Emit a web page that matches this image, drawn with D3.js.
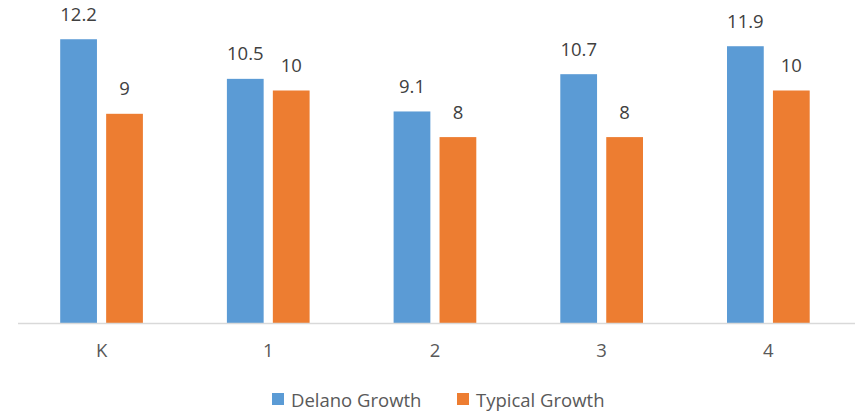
<!DOCTYPE html>
<html>
<head>
<meta charset="utf-8">
<script src="https://cdn.jsdelivr.net/npm/d3@7"></script>
<style>
  html, body { margin: 0; padding: 0; background: #fff; }
  svg { display: block; font-family: "Open Sans", "Noto Sans", sans-serif; }
</style>
</head>
<body>
<svg id="chart" width="867" height="414"></svg>
<script>
// Grade-level growth comparison
const grades = ["K", "1", "2", "3", "4"];
const seriesNames = ["Delano Growth", "Typical Growth"];
const delanoGrowth = [12.2, 10.5, 9.1, 10.7, 11.9];
const typicalGrowth = [9, 10, 8, 8, 10];
const seriesColors = ["#5B9BD5", "#ED7D31"];

const rows = grades.map((g, i) => ({ grade: g, values: [delanoGrowth[i], typicalGrowth[i]] }));

const svg = d3.select("#chart");
const baseY = 323.5;
const pxPerUnit = 23.3;
const fontSize = 18.5;

const x = d3.scaleBand().domain(grades).range([18.2, 851.7]).paddingInner(0).paddingOuter(0);
const pairWidth = 82.7;
const x1 = d3.scaleBand().domain([0, 1])
  .range([(x.bandwidth() - pairWidth) / 2, (x.bandwidth() + pairWidth) / 2])
  .paddingInner(0.2).paddingOuter(0);
const y = d3.scaleLinear().domain([0, 14]).range([baseY, baseY - 14 * pxPerUnit]);

// Bars
const groups = svg.append("g").selectAll("g").data(rows).join("g")
  .attr("transform", d => `translate(${x(d.grade)},0)`);

groups.selectAll("rect").data(d => d.values.map((v, i) => ({ v, i }))).join("rect")
  .attr("x", d => x1(d.i))
  .attr("width", x1.bandwidth())
  .attr("y", d => y(d.v))
  .attr("height", d => y(0) - y(d.v))
  .attr("fill", d => seriesColors[d.i]);

// Value labels
groups.selectAll("text").data(d => d.values.map((v, i) => ({ v, i }))).join("text")
  .attr("x", d => x1(d.i) + x1.bandwidth() / 2)
  .attr("y", d => y(d.v) - 18.5)
  .attr("text-anchor", "middle")
  .attr("font-size", fontSize)
  .attr("fill", "#404040")
  .text(d => d.v);

// Category axis
const axis = svg.append("g").attr("transform", `translate(0,${baseY})`)
  .call(d3.axisBottom(x).tickSize(0).tickPadding(20));
axis.select(".domain").attr("stroke", "#D9D9D9").attr("stroke-width", 1.3)
  .attr("d", "M18,0H855");
axis.selectAll("text").attr("font-size", fontSize).attr("fill", "#595959")
  .attr("font-family", "'Open Sans', 'Noto Sans', sans-serif");

// Legend
const legend = svg.append("g");
const legendX = [272, 457];
seriesNames.forEach((name, i) => {
  const g = legend.append("g").attr("transform", `translate(${legendX[i]},393)`);
  g.append("rect").attr("width", 12).attr("height", 12).attr("fill", seriesColors[i]);
  g.append("text").attr("x", 19).attr("y", 13.5).attr("font-size", fontSize)
    .attr("fill", "#595959").text(name);
});
</script>
</body>
</html>
